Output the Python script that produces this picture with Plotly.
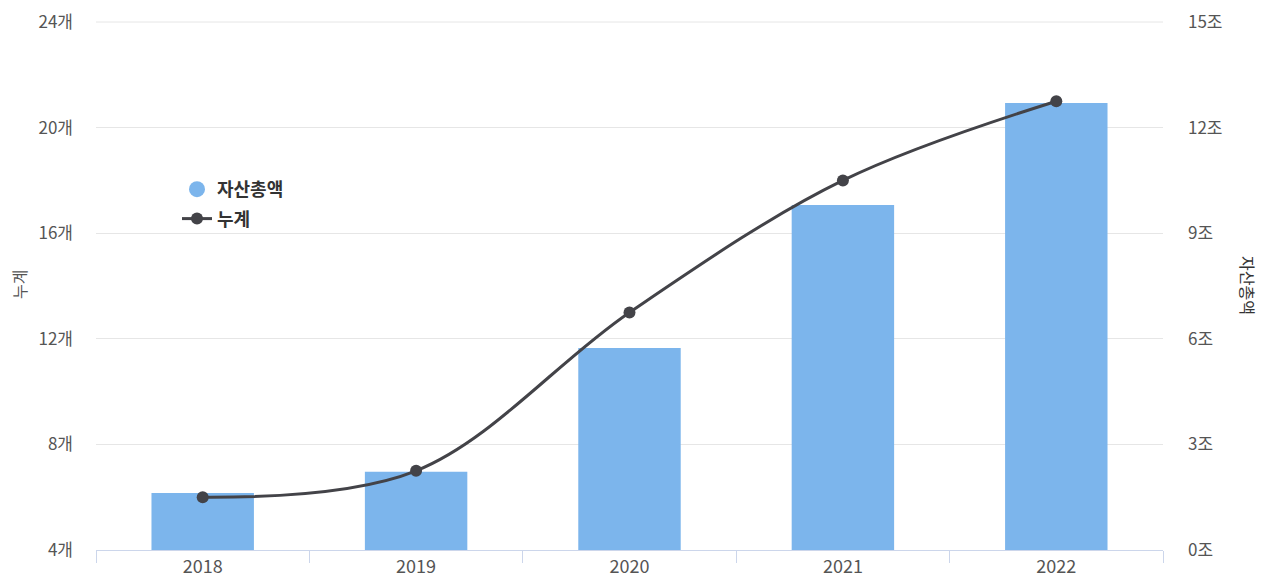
import plotly.graph_objects as go

years = ["2018", "2019", "2020", "2021", "2022"]
assets = [1.62, 2.22, 5.74, 9.8, 12.7]      # 자산총액 (조)
counts = [6, 7, 13, 18, 21]                 # 누계 (개)

left_ticks = [4, 8, 12, 16, 20, 24]
right_ticks = [0, 3, 6, 9, 12, 15]

FONT = "Noto Sans CJK KR"
BAR_COLOR = "#7cb5ec"
LINE_COLOR = "#434348"
GRID = "#e6e6e6"

# page body has an 8px margin; figure sized so it fits the 1271x585 window
W, H = 1255, 569
OFF = 8
L, R, T, B = 96 - OFF, W - (1163 - OFF), 22 - OFF, H - (550 - OFF)

fig = go.Figure()
fig.add_trace(go.Bar(
    x=years, y=assets, name="자산총액", yaxis="y",
    marker=dict(color=BAR_COLOR, line=dict(width=0)),
    showlegend=False,
))
fig.add_trace(go.Scatter(
    x=[None], y=[None], mode="markers", name="자산총액", legendgroup="a",
    marker=dict(symbol="circle", size=18, color=BAR_COLOR),
))
fig.add_trace(go.Scatter(
    x=years, y=counts, name="누계", mode="lines+markers", yaxis="y2", legendgroup="b",
    line=dict(color=LINE_COLOR, width=3, shape="spline", smoothing=1.0),
    marker=dict(color=LINE_COLOR, size=12),
))

fig.update_layout(
    width=W, height=H,
    margin=dict(l=L, r=R, t=T, b=B, autoexpand=False),
    paper_bgcolor="white", plot_bgcolor="white",
    font=dict(family=FONT, size=17, color="#555555"),
    bargap=0.52,
    xaxis=dict(
        type="category", showgrid=False, automargin=False,
        showline=True, linecolor="#ccd6eb", linewidth=1,
        ticks="outside", tickson="boundaries", ticklen=12, tickcolor="#ccd6eb",
        tickfont=dict(size=18, color="#555555"),
    ),
    # right axis: 자산총액 (bars)
    yaxis=dict(
        range=[0, 15], tickvals=right_ticks,
        ticktext=[f"{v}조" for v in right_ticks],
        side="right", automargin=False, ticklabeloverflow="allow",
        showgrid=True, gridcolor=GRID, gridwidth=1,
        zeroline=False, showline=False, ticks="",
        ticklabelstandoff=24,
        tickfont=dict(size=17, color="#555555"),
    ),
    # left axis: 누계 (line)
    yaxis2=dict(
        range=[4, 24], tickvals=left_ticks,
        ticktext=[f"{v}개" for v in left_ticks],
        overlaying="y", side="left", automargin=False, ticklabeloverflow="allow",
        showgrid=False, zeroline=False, showline=False, ticks="",
        ticklabelstandoff=22,
        tickfont=dict(size=17, color="#555555"),
    ),
    legend=dict(
        xanchor="left", yanchor="top", traceorder="grouped", tracegroupgap=3,
        font=dict(family=FONT, size=18, color="#333333", weight="bold"),
        bgcolor="rgba(0,0,0,0)",
    ),
    annotations=[
        dict(text="누계", x=19, y=285, xref="paper", yref="paper",
             xanchor="center", yanchor="middle",
             showarrow=False, textangle=-90, font=dict(size=16, color="#555555")),
        dict(text="자산총액", x=1248, y=285, xref="paper", yref="paper",
             xanchor="center", yanchor="middle",
             showarrow=False, textangle=90, font=dict(size=16, color="#333333")),
    ],
    shapes=[
        dict(type="line", xref="paper", yref="paper", x0=0, x1=1, y0=1, y1=1,
             line=dict(color=GRID, width=1), layer="below"),
    ],
)

# convert screen pixel positions to paper coordinates
pw = W - L - R
ph = H - T - B
def px(xp):
    return (xp - OFF - L) / pw
def py(yp):
    return (H - B - (yp - OFF)) / ph

fig.layout.legend.x = px(177)
fig.layout.legend.y = py(171)
for a in fig.layout.annotations:
    a.x = px(a.x)
    a.y = py(a.y)

fig.write_html("out.html")
